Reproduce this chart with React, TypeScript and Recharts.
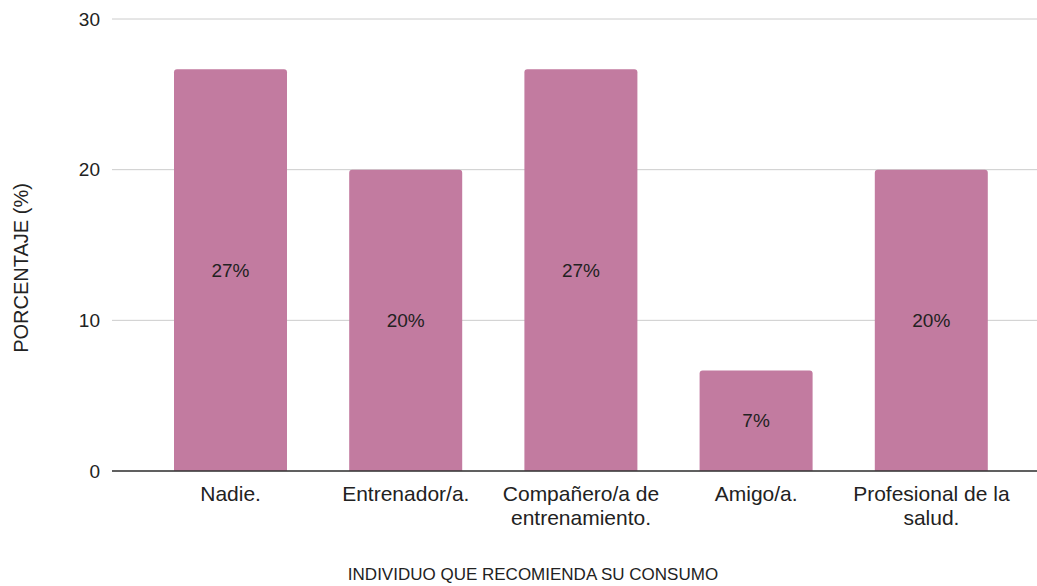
import React from 'react';
import { BarChart, Bar, XAxis, YAxis, CartesianGrid, LabelList, Label } from 'recharts';

const categories = [
  'Nadie.',
  'Entrenador/a.',
  'Compañero/a de entrenamiento.',
  'Amigo/a.',
  'Profesional de la salud.',
];
const percentages = [26.67, 20, 26.67, 6.67, 20];
const yTicks = [0, 10, 20, 30];

const BAR_COLOR = '#c27ba0';
const FONT = 'Arial, "Liberation Sans", sans-serif';
const TICK_SIZE = 21;

const data = categories.map((name, i) => ({ name, value: percentages[i] }));

// greedy word wrap, measured on a canvas
let ctx: CanvasRenderingContext2D | null = null;
function wrapLabel(label: string, maxWidth: number): string[] {
  if (!ctx) ctx = document.createElement('canvas').getContext('2d');
  if (!ctx) return [label];
  ctx.font = `${TICK_SIZE}px ${FONT}`;
  const lines: string[] = [];
  let line = '';
  for (const word of label.split(' ')) {
    const test = line ? `${line} ${word}` : word;
    if (line && ctx.measureText(test).width > maxWidth) {
      lines.push(line);
      line = word;
    } else {
      line = test;
    }
  }
  if (line) lines.push(line);
  return lines;
}

const CategoryTick = (props: any) => {
  const { x, y, payload } = props;
  const lines = wrapLabel(String(payload.value), 168);
  return (
    <text x={x} y={y + 22} textAnchor="middle" fontSize={TICK_SIZE} fontFamily={FONT} fill="#222">
      {lines.map((l, i) => (
        <tspan key={i} x={x} dy={i === 0 ? 0 : 24}>
          {l}
        </tspan>
      ))}
    </text>
  );
};

const YTitle = () => (
  <text
    x={21}
    y={268}
    transform="rotate(-90, 21, 268)"
    textAnchor="middle"
    dominantBaseline="central"
    fontSize={20}
    fontFamily={FONT}
    fill="#222"
  >
    PORCENTAJE (%)
  </text>
);

const XTitle = () => (
  <text
    x={533}
    y={574}
    textAnchor="middle"
    dominantBaseline="central"
    fontSize={17}
    fontFamily={FONT}
    fill="#222"
  >
    INDIVIDUO QUE RECOMIENDA SU CONSUMO
  </text>
);

export default function App() {
  return (
    <div style={{ position: 'absolute', left: 0, top: 0, background: '#fff' }}>
      <BarChart
        width={1037}
        height={586}
        data={data}
        margin={{ top: 19, right: 0, bottom: 0, left: 0 }}
      >
        <CartesianGrid vertical={false} stroke="#cccccc" />
        <XAxis
          dataKey="name"
          height={115}
          tickLine={false}
          axisLine={{ stroke: '#333333', strokeWidth: 1.5 }}
          interval={0}
          padding={{ left: 31, right: 18 }}
          tick={<CategoryTick />}
        >
          <Label content={<XTitle />} />
        </XAxis>
        <YAxis
          width={112}
          domain={[0, 30]}
          ticks={yTicks}
          tickLine={false}
          axisLine={false}
          tickSize={0}
          tickMargin={12}
          tick={{ fontSize: 19, fontFamily: FONT, fill: '#222' }}
        >
          <Label content={<YTitle />} />
        </YAxis>
        <Bar dataKey="value" fill={BAR_COLOR} barSize={113} radius={[3, 3, 0, 0]} isAnimationActive={false}>
          <LabelList
            dataKey="value"
            position="center"
            formatter={(v: any) => `${Math.round(Number(v))}%`}
            fontSize={19}
            fontFamily={FONT}
            fill="#222"
          />
        </Bar>
      </BarChart>
    </div>
  );
}
